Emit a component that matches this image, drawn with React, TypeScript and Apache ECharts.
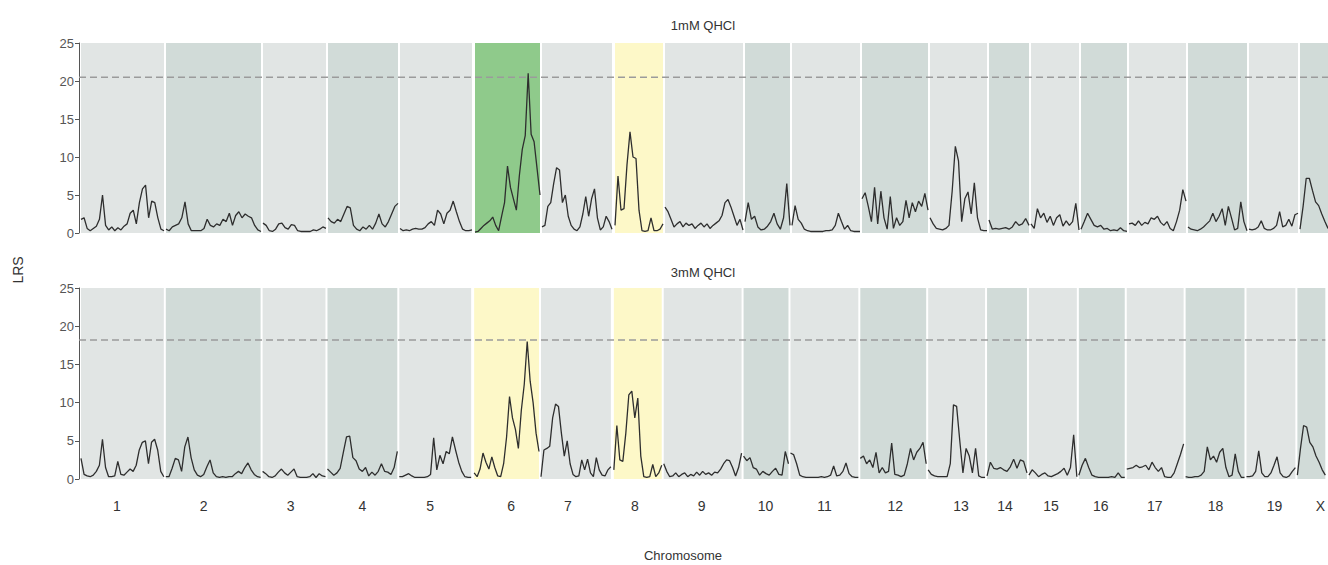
import React, { useEffect, useRef } from "react";
import * as echarts from "echarts";

// ---- genome layout (axis units) ----
const chromosomes = ["1", "2", "3", "4", "5", "6", "7", "8", "9", "10", "11", "12", "13", "14", "15", "16", "17", "18", "19", "X"];
const chromStart = [2, 87, 184, 249, 321, 396, 463, 536, 586, 666, 713, 783, 851, 910, 952, 1002, 1050, 1109, 1170, 1221];
const chromLength = [83, 95, 63, 70, 72, 65, 70, 48, 78, 45, 68, 66, 57, 40, 48, 46, 57, 59, 49, 28];
const chromLabelPos = [38, 125, 212, 284, 352, 433, 490, 557, 624, 688, 747, 818, 884, 928, 974, 1024, 1078, 1139, 1198, 1244];
const axisMax = 1249;

// ---- y axis ----
const lrsMin = 0;
const lrsMax = 25;
const lrsInterval = 5;

// ---- panels ----
const panelTitles = ["1mM QHCl", "3mM QHCl"];
const threshold1mM = 20.5;
const threshold3mM = 18.2;
const highlight1mM: Record<string, string> = { "6": "significant", "8": "suggestive" };
const highlight3mM: Record<string, string> = { "6": "suggestive", "8": "suggestive" };

// ---- LRS values, one row per chromosome (evenly spaced along each chromosome) ----
const lrs1mM: number[][] = [
  [1.8, 2.0, 0.6, 0.3, 0.6, 0.9, 1.8, 5.0, 1.0, 0.4, 0.8, 0.3, 0.7, 0.4, 0.9, 1.2, 2.6, 3.0, 1.2, 4.0, 5.8, 6.3, 2.0, 4.2, 4.0, 2.0, 0.5, 0.3],
  [0.5, 0.3, 0.8, 1.0, 1.2, 2.0, 4.1, 1.2, 0.3, 0.3, 0.3, 0.3, 0.6, 1.8, 1.0, 0.8, 1.2, 1.0, 1.8, 1.5, 2.6, 1.0, 2.3, 2.8, 2.0, 2.5, 2.2, 2.0, 1.0, 0.4, 0.2],
  [1.3, 1.0, 0.3, 0.2, 0.5, 1.2, 1.3, 0.7, 0.5, 1.1, 1.0, 0.3, 0.2, 0.2, 0.2, 0.2, 0.4, 0.3, 0.5, 0.8, 0.6],
  [2.0, 1.5, 1.3, 1.8, 1.5, 2.5, 3.5, 3.3, 1.0, 0.5, 0.3, 0.8, 0.5, 1.0, 0.5, 1.3, 2.5, 1.2, 0.8, 1.5, 2.5, 3.5, 3.9],
  [0.6, 0.3, 0.4, 0.3, 0.5, 0.6, 0.5, 0.5, 0.7, 1.2, 1.5, 1.0, 3.0, 2.5, 1.2, 2.6, 3.0, 4.2, 2.8, 1.5, 0.5, 0.3, 0.3, 0.4],
  [0.1, 0.2, 0.6, 1.0, 1.3, 1.6, 2.1, 1.0, 0.3, 2.2, 4.0, 8.8, 6.0, 4.5, 3.0, 7.5, 11.0, 12.8, 21.0, 13.0, 12.0, 8.5, 5.0],
  [0.8, 1.0, 3.5, 4.0, 6.5, 8.6, 8.3, 4.0, 5.0, 2.2, 1.0, 0.5, 0.3, 0.8, 2.5, 4.8, 2.2, 4.5, 5.8, 2.0, 0.4, 0.8, 2.2, 1.5, 0.5],
  [1.0, 7.5, 3.0, 3.2, 9.0, 13.3, 10.0, 9.8, 3.0, 0.3, 0.2, 0.3, 2.0, 0.3, 0.3, 0.5, 1.2],
  [3.4, 2.8, 1.8, 0.8, 1.2, 1.5, 0.8, 1.3, 1.0, 1.2, 0.6, 1.0, 1.3, 0.8, 1.2, 0.6, 1.0, 1.3, 1.6, 2.3, 4.0, 4.4, 3.4, 2.2, 1.0, 1.8, 0.4],
  [1.5, 4.0, 1.8, 2.2, 0.8, 0.4, 0.5, 0.9, 1.5, 2.6, 1.2, 0.5, 2.0, 6.5, 1.0],
  [1.0, 3.6, 1.8, 1.3, 0.5, 0.3, 0.2, 0.2, 0.2, 0.2, 0.2, 0.3, 0.3, 0.4, 1.0, 2.6, 1.5, 0.5, 1.0, 0.3, 0.2, 0.2, 0.2],
  [4.5, 5.3, 3.5, 1.5, 6.0, 1.2, 5.5, 2.0, 0.5, 4.8, 0.6, 2.0, 1.0, 1.5, 4.3, 2.0, 4.0, 2.8, 4.2, 3.5, 5.2, 3.0],
  [2.0, 1.2, 0.6, 0.5, 0.4, 0.6, 1.0, 5.5, 11.4, 9.5, 1.5, 4.5, 5.4, 2.5, 6.6, 2.0, 0.4, 0.3, 0.3],
  [1.7, 0.5, 0.6, 0.5, 0.6, 0.7, 0.5, 0.8, 1.5, 1.0, 1.2, 1.9, 1.0],
  [1.2, 0.6, 3.2, 2.0, 2.6, 1.4, 2.2, 1.0, 2.0, 2.4, 0.9, 1.6, 1.0, 1.5, 3.9, 0.4],
  [0.5, 1.5, 2.6, 1.8, 1.0, 0.8, 1.0, 0.5, 0.6, 0.3, 0.4, 0.3, 0.7, 0.3, 0.2],
  [1.2, 1.3, 1.0, 1.6, 1.0, 1.4, 1.2, 2.0, 1.8, 2.2, 1.4, 1.0, 1.5, 0.6, 0.3, 1.5, 3.0, 5.7, 4.2],
  [0.8, 0.5, 0.4, 0.3, 0.5, 0.8, 1.2, 1.6, 2.6, 1.5, 2.2, 3.2, 1.0, 3.5, 2.0, 0.4, 0.6, 4.1, 1.5, 0.3],
  [0.5, 0.4, 0.5, 0.8, 1.6, 0.6, 0.4, 0.4, 0.6, 1.0, 2.8, 0.8, 1.0, 1.8, 0.9, 2.4, 2.6],
  [0.5, 3.5, 7.2, 7.2, 5.6, 4.1, 3.6, 2.5, 1.5, 0.6],
];

const lrs3mM: number[][] = [
  [2.7, 0.6, 0.4, 0.3, 0.5, 1.0, 1.8, 5.2, 1.5, 0.3, 0.3, 0.4, 2.3, 0.6, 0.5, 0.9, 1.3, 1.0, 1.8, 3.8, 4.8, 5.0, 2.0, 4.8, 5.2, 3.8, 1.0, 0.3],
  [0.3, 0.3, 1.4, 2.7, 2.5, 1.0, 4.2, 5.5, 2.8, 1.2, 0.5, 0.3, 0.6, 1.6, 2.5, 0.8, 0.3, 0.2, 0.3, 0.2, 0.3, 0.3, 0.7, 1.0, 0.7, 1.5, 2.1, 1.2, 0.6, 0.3, 0.2],
  [1.0, 0.7, 0.3, 0.2, 0.4, 0.9, 1.3, 0.8, 0.5, 0.9, 1.3, 0.3, 0.2, 0.2, 0.2, 0.3, 0.7, 0.2, 0.7, 0.4, 0.3],
  [1.3, 0.9, 0.5, 0.8, 1.4, 3.5, 5.5, 5.6, 2.8, 2.4, 1.3, 1.0, 1.5, 0.4, 0.9, 0.5, 1.0, 2.0, 1.0, 0.9, 0.6, 1.5, 3.6],
  [0.3, 0.3, 0.5, 0.7, 0.4, 0.2, 0.2, 0.2, 0.2, 0.3, 0.6, 5.4, 1.2, 3.1, 2.0, 3.6, 3.3, 5.5, 3.8, 2.2, 1.0, 0.3, 0.2, 0.2],
  [0.8, 0.3, 1.3, 3.4, 2.2, 1.3, 2.9, 1.5, 0.4, 0.3, 2.0, 5.5, 10.8, 8.0, 6.5, 4.0, 9.0, 12.4, 18.0, 12.8, 10.0, 6.0, 3.6],
  [0.3, 3.8, 4.0, 4.3, 8.0, 9.8, 9.5, 6.0, 3.0, 5.0, 2.0, 0.6, 0.3, 0.4, 2.5, 1.2, 2.6, 0.8, 0.3, 2.8, 1.2, 0.5, 0.4, 1.2, 1.6],
  [1.2, 7.0, 2.5, 2.3, 6.0, 11.0, 11.5, 8.0, 10.6, 3.0, 0.3, 0.2, 0.3, 1.9, 0.3, 0.8, 1.8],
  [2.0, 1.0, 0.3, 0.4, 0.8, 0.3, 0.6, 0.8, 0.3, 0.6, 0.4, 0.9, 0.5, 1.0, 0.6, 0.8, 0.5, 0.9, 0.8, 1.3, 2.0, 2.5, 2.4, 1.5, 0.4, 1.5, 3.4],
  [3.0, 2.4, 2.8, 1.5, 1.3, 0.5, 1.0, 0.7, 0.5, 1.0, 1.4, 0.6, 0.5, 3.6, 2.0],
  [3.4, 3.2, 2.0, 0.5, 0.3, 0.2, 0.2, 0.2, 0.2, 0.2, 0.3, 0.2, 0.3, 0.5, 1.7, 0.4, 0.5, 1.0, 2.1, 0.7, 0.3, 0.2, 0.2],
  [2.7, 3.0, 2.0, 2.5, 1.5, 3.5, 0.8, 1.5, 0.8, 1.0, 4.7, 0.6, 0.5, 0.3, 0.5, 2.0, 4.0, 2.5, 3.5, 4.0, 4.8, 2.0],
  [1.2, 0.6, 0.4, 0.3, 0.3, 0.3, 0.3, 2.0, 9.7, 9.5, 5.0, 0.8, 4.0, 3.0, 0.8, 4.0, 0.4, 0.2, 0.2],
  [0.4, 2.2, 1.4, 1.3, 1.5, 1.2, 1.0, 1.6, 2.6, 1.4, 2.5, 2.3, 0.8],
  [0.5, 1.2, 0.8, 0.3, 0.6, 0.8, 0.4, 0.3, 0.5, 0.7, 1.0, 1.4, 0.5, 1.5, 5.8, 0.3],
  [0.5, 1.8, 2.7, 1.5, 0.5, 0.3, 0.2, 0.2, 0.2, 0.2, 0.3, 0.2, 0.8, 0.2, 0.2],
  [1.3, 1.4, 1.5, 1.8, 1.5, 1.6, 1.8, 1.2, 2.2, 1.5, 1.0, 1.5, 0.3, 0.2, 0.2, 0.8, 2.0, 3.2, 4.6],
  [0.3, 0.2, 0.2, 0.3, 0.3, 0.5, 1.0, 4.2, 2.5, 3.0, 2.2, 3.5, 4.0, 1.5, 0.3, 0.5, 3.3, 1.0, 0.2, 0.2],
  [0.3, 0.3, 0.4, 1.0, 3.7, 0.8, 0.3, 0.3, 0.8, 1.8, 2.9, 0.8, 0.3, 0.2, 0.4, 1.0, 1.5],
  [0.5, 4.0, 7.0, 6.8, 4.8, 4.2, 3.0, 2.2, 1.2, 0.5],
];

const bgColors: Record<string, string> = {
  light: "#e1e5e4",
  dark: "#d1dbd8",
  significant: "#8fca8b",
  suggestive: "#fdf8c8",
};

const FONT = "'Liberation Sans', Arial, Helvetica, sans-serif";

export default function App() {
  const ref = useRef<HTMLDivElement>(null);

  useEffect(() => {
    if (!ref.current) return;
    const chart = echarts.init(ref.current, null, { renderer: "svg" });

    const panels = [
      { lrs: lrs1mM, thr: threshold1mM, hl: highlight1mM },
      { lrs: lrs3mM, thr: threshold3mM, hl: highlight3mM },
    ];

    const series: any[] = [];
    panels.forEach((p, g) => {
      const kinds = chromosomes.map((c, i) => p.hl[c] || (i % 2 === 0 ? "light" : "dark"));
      series.push({
        type: "custom",
        xAxisIndex: g,
        yAxisIndex: g,
        z: 0,
        silent: true,
        data: chromosomes.map((_, i) => [chromStart[i], chromStart[i] + chromLength[i]]),
        renderItem: (params: any, api: any) => {
          const a = api.coord([api.value(0), lrsMax]);
          const b = api.coord([api.value(1), lrsMin]);
          return {
            type: "rect",
            shape: { x: a[0], y: a[1], width: b[0] - a[0], height: b[1] - a[1] },
            style: { fill: bgColors[kinds[params.dataIndex]] },
          };
        },
      });
      series.push({
        type: "line",
        xAxisIndex: g,
        yAxisIndex: g,
        z: 1,
        silent: true,
        symbol: "none",
        data: [
          [0, p.thr],
          [axisMax, p.thr],
        ],
        lineStyle: { color: "#9b9b9b", width: 1.5, type: [7, 4] },
      });
      p.lrs.forEach((vals, i) => {
        const n = vals.length;
        series.push({
          type: "line",
          xAxisIndex: g,
          yAxisIndex: g,
          z: 2,
          silent: true,
          symbol: "none",
          lineStyle: { color: "#2e2e2e", width: 1.3 },
          data: vals.map((v, j) => [chromStart[i] + (chromLength[i] * j) / (n - 1), v]),
        });
      });
    });

    const yAxisBase = {
      type: "value",
      min: lrsMin,
      max: lrsMax,
      interval: lrsInterval,
      axisLine: { show: true, lineStyle: { color: "#555", width: 1 } },
      axisTick: { show: true, length: 4, lineStyle: { color: "#555" } },
      axisLabel: { color: "#555", fontSize: 13, fontFamily: FONT, margin: 5 },
      splitLine: { show: false },
    };

    chart.setOption({
      animation: false,
      backgroundColor: "#ffffff",
      grid: [
        { left: 79, top: 43, width: 1249, height: 190 },
        { left: 79, top: 288, width: 1249, height: 191 },
      ],
      xAxis: [
        { type: "value", gridIndex: 0, min: 0, max: axisMax, show: false },
        {
          type: "value",
          gridIndex: 1,
          min: 0,
          max: axisMax,
          axisLine: { show: false },
          axisTick: { show: false },
          splitLine: { show: false },
          axisLabel: {
            customValues: chromLabelPos,
            color: "#333",
            fontSize: 14,
            fontFamily: FONT,
            margin: 20,
            formatter: (v: number) => {
              const i = chromLabelPos.indexOf(v);
              return i >= 0 ? chromosomes[i] : "";
            },
          },
        },
      ],
      yAxis: [
        { ...yAxisBase, gridIndex: 0 },
        { ...yAxisBase, gridIndex: 1 },
      ],
      graphic: [
        {
          type: "text",
          x: 703,
          y: 25,
          style: { text: panelTitles[0], fill: "#333", fontSize: 13, fontFamily: FONT, textAlign: "center", textVerticalAlign: "middle" },
        },
        {
          type: "text",
          x: 703,
          y: 272,
          style: { text: panelTitles[1], fill: "#333", fontSize: 13, fontFamily: FONT, textAlign: "center", textVerticalAlign: "middle" },
        },
        {
          type: "text",
          x: 18,
          y: 270,
          rotation: Math.PI / 2,
          style: { text: "LRS", fill: "#333", fontSize: 14, fontFamily: FONT, textAlign: "center", textVerticalAlign: "middle" },
        },
        {
          type: "text",
          x: 683,
          y: 555,
          style: { text: "Chromosome", fill: "#333", fontSize: 13, fontFamily: FONT, textAlign: "center", textVerticalAlign: "middle" },
        },
      ],
      series,
    });

    return () => chart.dispose();
  }, []);

  return <div ref={ref} style={{ position: "absolute", left: 0, top: 0, width: 1328, height: 565 }} />;
}
